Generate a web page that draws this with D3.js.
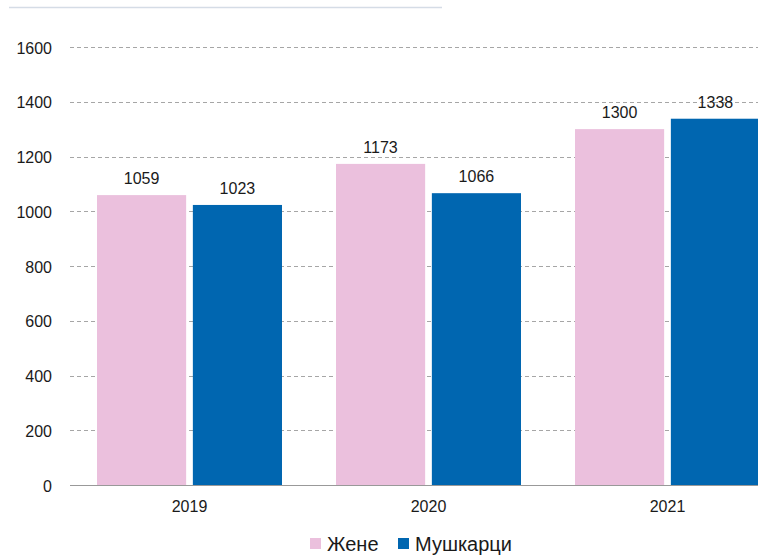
<!DOCTYPE html>
<html>
<head>
<meta charset="utf-8">
<script src="https://cdn.jsdelivr.net/npm/d3@7"></script>
<style>
  body { margin: 0; background: #fff; }
  svg { font-family: "Liberation Sans", Arial, sans-serif; }
</style>
</head>
<body>
<div id="chart"></div>
<script>
const years = ['2019', '2020', '2021'];
const women = [1059, 1173, 1300];
const men = [1023, 1066, 1338];
const seriesNames = ['Жене', 'Мушкарци'];
const yTicks = [0, 200, 400, 600, 800, 1000, 1200, 1400, 1600];

const width = 758, height = 555;
const colors = ['#ebc0dd', '#0066b0'];

const svg = d3.select('#chart').append('svg')
  .attr('width', width)
  .attr('height', height);

// cut-off title rule
svg.append('line')
  .attr('x1', 9).attr('x2', 442)
  .attr('y1', 7.5).attr('y2', 7.5)
  .attr('stroke', '#d5dce6').attr('stroke-width', 1.5);

const x0 = d3.scaleBand().domain(years).range([70, 787]).paddingInner(0.226).paddingOuter(0.113);
const x1 = d3.scaleBand().domain([0, 1]).range([0, x0.bandwidth()]).paddingInner(0.07);
const y = d3.scaleLinear().domain([0, 1600]).range([485, 47]);

// gridlines
svg.append('g')
  .selectAll('line')
  .data(yTicks.filter(d => d > 0))
  .enter()
  .append('line')
  .attr('x1', 70).attr('x2', width)
  .attr('y1', d => Math.round(y(d)) + 0.5)
  .attr('y2', d => Math.round(y(d)) + 0.5)
  .attr('stroke', '#a6a6a6')
  .attr('stroke-dasharray', '4,3');

// y tick labels
svg.append('g')
  .selectAll('text')
  .data(yTicks)
  .enter()
  .append('text')
  .attr('x', 52)
  .attr('y', d => y(d) + 1)
  .attr('dy', '0.35em')
  .attr('text-anchor', 'end')
  .attr('font-size', 16)
  .attr('fill', '#1a1a1a')
  .text(d => d);

const rows = years.map((yr, i) => ({ year: yr, values: [women[i], men[i]] }));

const groups = svg.append('g')
  .selectAll('g')
  .data(rows)
  .enter()
  .append('g')
  .attr('transform', d => 'translate(' + x0(d.year) + ',0)');

groups.selectAll('rect')
  .data(d => d.values.map((v, k) => ({ k, v })))
  .enter()
  .append('rect')
  .attr('x', d => x1(d.k))
  .attr('y', d => y(d.v))
  .attr('width', x1.bandwidth())
  .attr('height', d => y(0) - y(d.v))
  .attr('fill', d => colors[d.k]);

groups.selectAll('text')
  .data(d => d.values.map((v, k) => ({ k, v })))
  .enter()
  .append('text')
  .attr('x', d => x1(d.k) + x1.bandwidth() / 2)
  .attr('y', d => y(d.v) - 11)
  .attr('text-anchor', 'middle')
  .attr('font-size', 16)
  .attr('fill', '#1a1a1a')
  .text(d => d.v);

// baseline
svg.append('line')
  .attr('x1', 70).attr('x2', width)
  .attr('y1', 485.5).attr('y2', 485.5)
  .attr('stroke', '#999').attr('stroke-width', 1);

// x labels
svg.append('g')
  .selectAll('text')
  .data(years)
  .enter()
  .append('text')
  .attr('x', d => x0(d) + x0.bandwidth() / 2)
  .attr('y', 506)
  .attr('dy', '0.35em')
  .attr('text-anchor', 'middle')
  .attr('font-size', 16)
  .attr('fill', '#1a1a1a')
  .text(d => d);

// legend
const legend = svg.append('g')
  .selectAll('g')
  .data(seriesNames)
  .enter()
  .append('g')
  .attr('transform', (d, i) => 'translate(' + [310, 398][i] + ',544)');

legend.append('rect')
  .attr('x', 0).attr('y', -6)
  .attr('width', 11).attr('height', 11)
  .attr('fill', (d, i) => colors[i]);

legend.append('text')
  .attr('x', 17)
  .attr('y', 0)
  .attr('dy', '0.35em')
  .attr('font-size', 20)
  .attr('fill', '#1a1a1a')
  .text(d => d);
</script>
</body>
</html>
